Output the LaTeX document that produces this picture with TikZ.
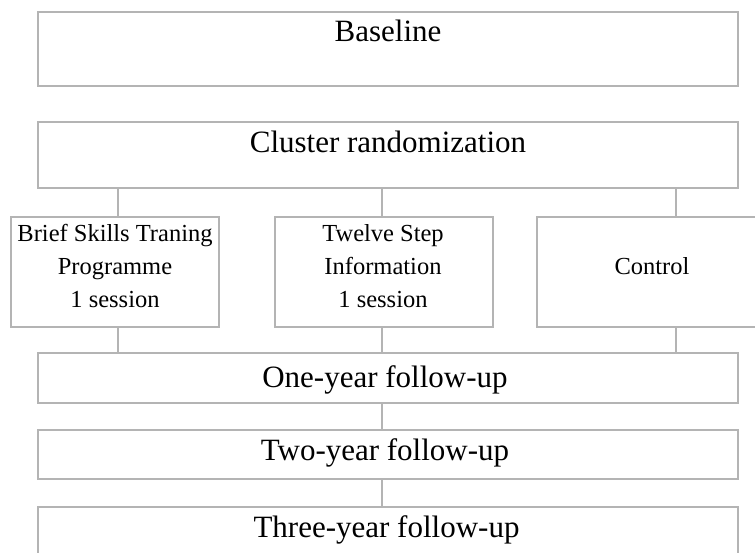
\documentclass[tikz,border=0pt]{standalone}
\usepackage{fontspec}
\setmainfont{Liberation Serif}
\definecolor{boxgray}{HTML}{B4B4B4}
\begin{document}
\begin{tikzpicture}[x=1pt,y=-1pt,
  box/.style={draw=boxgray,line width=2pt,rectangle,inner sep=0pt,outer sep=0pt},
  conn/.style={draw=boxgray,line width=2pt},
  big/.style={anchor=base,inner sep=0pt,font=\fontsize{31}{36}\selectfont},
  small/.style={anchor=base,inner sep=0pt,font=\fontsize{24.5}{33}\selectfont}]
\clip (0,0) rectangle (755,553);
% boxes
\node[box,minimum width=700pt,minimum height=74pt] (base) at (388,49) {};
\node[box,minimum width=700pt,minimum height=66pt] (clu) at (388,155) {};
\node[box,minimum width=208pt,minimum height=110pt] (brief) at (115,272) {};
\node[box,minimum width=218pt,minimum height=110pt] (twelve) at (384,272) {};
\node[box,minimum width=238pt,minimum height=110pt] (ctrl) at (656,272) {};
\node[box,minimum width=700pt,minimum height=50pt] (one) at (388,378) {};
\node[box,minimum width=700pt,minimum height=49pt] (two) at (388,454.5) {};
\node[box,minimum width=700pt,minimum height=73pt] (three) at (388,543.5) {};
% texts
\node[big] (tbase) at (388,42) {Baseline};
\node[big] (tclu) at (388,153) {Cluster randomization};
\node[small] (tb1) at (115,242) {Brief Skills Traning};
\node[small] (tb2) at (115,275) {Programme};
\node[small] (tb3) at (115,308) {1 session};
\node[small] (tt1) at (383,242) {Twelve Step};
\node[small] (tt2) at (383,275) {Information};
\node[small] (tt3) at (383,308) {1 session};
\node[small] (tc) at (652,275) {Control};
\node[big] (tone) at (385,387) {One-year follow-up};
\node[big] (ttwo) at (385,460) {Two-year follow-up};
\node[big] (tthree) at (386.5,537) {Three-year follow-up};
% connectors
\draw[conn] (clu.south -| 118,0) -- (brief.north -| 118,0);
\draw[conn] (clu.south -| 382,0) -- (twelve.north -| 382,0);
\draw[conn] (clu.south -| 676,0) -- (ctrl.north -| 676,0);
\draw[conn] (brief.south -| 118,0) -- (one.north -| 118,0);
\draw[conn] (twelve.south -| 382,0) -- (one.north -| 382,0);
\draw[conn] (ctrl.south -| 676,0) -- (one.north -| 676,0);
\draw[conn] (one.south -| 382,0) -- (two.north -| 382,0);
\draw[conn] (two.south -| 382,0) -- (three.north -| 382,0);
\end{tikzpicture}
\end{document}
